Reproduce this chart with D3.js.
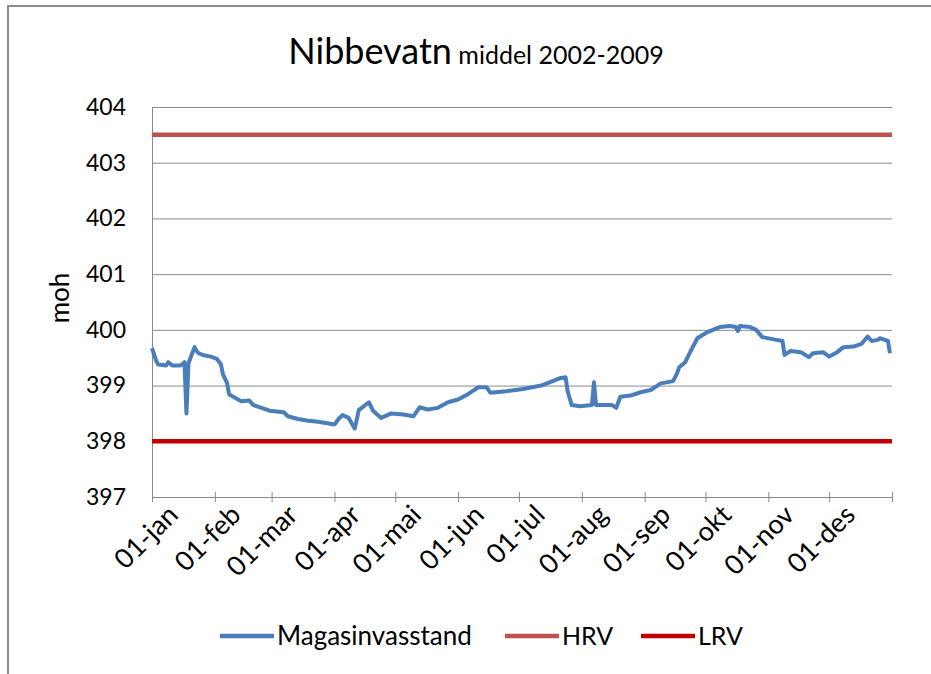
<!DOCTYPE html>
<html lang="no">
<head>
  <meta charset="UTF-8">
  <title>Nibbevatn middel 2002-2009</title>
  <style>
    html, body {
      background-color: #ffffff;
      margin: 0;
    }
    svg {
      display: block;
      font-family: Lato, "Open Sans", sans-serif;
    }
    .grid line {
      stroke: #8a8a8a;
      stroke-width: 1;
    }
  </style>
</head>
<body>
  <svg id="chart" width="931" height="674"></svg>

  <script src="https://cdnjs.cloudflare.com/ajax/libs/d3/7.8.5/d3.min.js"></script>
  <script>
    // day of year (0 = 01-jan) and the mean reservoir level on that day
    const days = [0, 2, 3, 7, 8, 10, 14, 16, 17, 18, 19, 21, 22, 23, 25, 29, 32, 34, 35, 37,
      38, 39, 41, 44, 48, 50, 54, 58, 65, 67, 72, 77, 82, 90, 92, 94, 97, 100, 102, 107,
      109, 113, 118, 124, 129, 132, 136, 141, 146, 151, 156, 161, 165, 167, 175, 183, 192, 201, 204, 205,
      207, 211, 217, 218, 219, 227, 229, 231, 236, 241, 246, 251, 257, 259, 260, 263, 266, 269, 274, 280,
      285, 288, 289, 290, 295, 298, 301, 308, 311, 312, 315, 320, 324, 326, 331, 334, 338, 341, 346, 350,
      353, 355, 358, 359, 363, 364];
    const levels = [399.67, 399.45, 399.38, 399.36, 399.42, 399.36, 399.36, 399.42, 398.5, 399.4, 399.5, 399.69, 399.62, 399.58, 399.55, 399.52, 399.48, 399.38, 399.2, 399.05,
      398.85, 398.82, 398.78, 398.72, 398.73, 398.65, 398.6, 398.55, 398.52, 398.45, 398.4, 398.37, 398.35, 398.3, 398.4, 398.47, 398.42, 398.23, 398.56, 398.7,
      398.55, 398.42, 398.5, 398.48, 398.45, 398.61, 398.57, 398.6, 398.7, 398.75, 398.85, 398.97, 398.97, 398.87, 398.9, 398.94, 399.0, 399.13, 399.15, 398.9,
      398.65, 398.63, 398.65, 399.06, 398.65, 398.65, 398.6, 398.8, 398.82, 398.88, 398.92, 399.04, 399.08, 399.22, 399.33, 399.42, 399.64, 399.85, 399.96, 400.05,
      400.07, 400.05, 399.98, 400.07, 400.05, 400.0, 399.87, 399.82, 399.8, 399.55, 399.62, 399.6, 399.51, 399.58, 399.6, 399.52, 399.6, 399.69, 399.7, 399.75,
      399.88, 399.8, 399.82, 399.85, 399.8, 399.58];
    const hrvLevel = 403.5;
    const lrvLevel = 398.0;
    const monthLabels = ['jan', 'feb', 'mar', 'apr', 'mai', 'jun', 'jul', 'aug', 'sep', 'okt', 'nov', 'des'];
    const yTicks = [397, 398, 399, 400, 401, 402, 403, 404];
    const seriesNames = ['Magasinvasstand', 'HRV', 'LRV'];
    const seriesColors = ['#4a7ebb', '#c0504d', '#c00000'];

    const plot = {left: 152, right: 892, top: 107, bottom: 497};
    const svg = d3.select('#chart');
    const year = 2009;
    const toDate = d => new Date(Date.UTC(year, 0, 1 + d));

    const x = d3.scaleUtc()
      .domain([new Date(Date.UTC(year, 0, 1)), new Date(Date.UTC(year + 1, 0, 1))])
      .range([plot.left, plot.right]);
    const y = d3.scaleLinear()
      .domain([397, 404])
      .range([plot.bottom, plot.top]);

    // outer frame
    svg.append('rect')
      .attr('x', 8).attr('y', 6)
      .attr('width', 940).attr('height', 690)
      .attr('fill', 'none')
      .attr('stroke', '#8c8c8c')
      .attr('stroke-width', 2);

    // title
    const title = svg.append('text')
      .attr('x', 476)
      .attr('y', 64)
      .attr('text-anchor', 'middle')
      .attr('fill', '#000');
    title.append('tspan').attr('font-size', 36).text('Nibbevatn');
    title.append('tspan').attr('font-size', 25).text(' middel 2002-2009');

    // horizontal grid + y axis labels
    const yAxis = d3.axisLeft(y)
      .tickValues(yTicks)
      .tickSize(-(plot.right - plot.left))
      .tickPadding(26)
      .tickFormat(d3.format('d'));
    const yG = svg.append('g')
      .attr('class', 'grid')
      .attr('transform', `translate(${plot.left},0)`)
      .call(yAxis);
    yG.select('.domain').attr('stroke', '#8a8a8a');
    yG.selectAll('text')
      .attr('font-size', 23)
      .attr('font-family', 'Lato, sans-serif')
      .attr('fill', '#000');

    // x axis with month ticks
    const monthTicks = d3.utcMonth.range(x.domain()[0], x.domain()[1]).concat([x.domain()[1]]);
    const xAxis = d3.axisBottom(x)
      .tickValues(monthTicks)
      .tickSize(5)
      .tickFormat(() => '');
    const xG = svg.append('g')
      .attr('transform', `translate(0,${plot.bottom})`)
      .call(xAxis);
    xG.select('.domain').attr('stroke', '#8a8a8a');
    xG.selectAll('.tick line')
      .attr('stroke', '#8a8a8a')
      .attr('y1', -5);

    svg.append('g')
      .selectAll('text')
      .data(monthTicks.slice(0, 12))
      .join('text')
      .attr('transform', d => `translate(${x(d) + 14},${plot.bottom + 6}) rotate(-45)`)
      .attr('text-anchor', 'end')
      .attr('dy', '0.71em')
      .attr('font-size', 27)
      .attr('fill', '#000')
      .text((d, i) => '01-' + monthLabels[i]);

    // y title
    svg.append('text')
      .attr('transform', 'translate(69,298) rotate(-90)')
      .attr('text-anchor', 'middle')
      .attr('font-size', 26)
      .attr('fill', '#000')
      .text('moh');

    // reference levels
    [hrvLevel, lrvLevel].forEach((lvl, i) => {
      svg.append('line')
        .attr('x1', plot.left).attr('x2', plot.right)
        .attr('y1', y(lvl)).attr('y2', y(lvl))
        .attr('stroke', seriesColors[i + 1])
        .attr('stroke-width', 4.5);
    });

    // reservoir level
    const points = days.map((d, i) => ({date: toDate(d), value: levels[i]}));
    const line = d3.line()
      .x(d => x(d.date))
      .y(d => y(d.value));
    svg.append('path')
      .datum(points)
      .attr('d', line)
      .attr('fill', 'none')
      .attr('stroke', seriesColors[0])
      .attr('stroke-width', 4)
      .attr('stroke-linejoin', 'round');

    // legend
    const legendX = [220, 505, 641];
    const legend = svg.append('g').attr('transform', 'translate(0,636)');
    seriesNames.forEach((name, i) => {
      legend.append('line')
        .attr('x1', legendX[i]).attr('x2', legendX[i] + 54)
        .attr('stroke', seriesColors[i])
        .attr('stroke-width', 4.5);
      legend.append('text')
        .attr('x', legendX[i] + 57)
        .attr('dy', '0.35em')
        .attr('font-size', i === 0 ? 26 : 25)
        .attr('fill', '#000')
        .text(name);
    });
  </script>
</body>
</html>
